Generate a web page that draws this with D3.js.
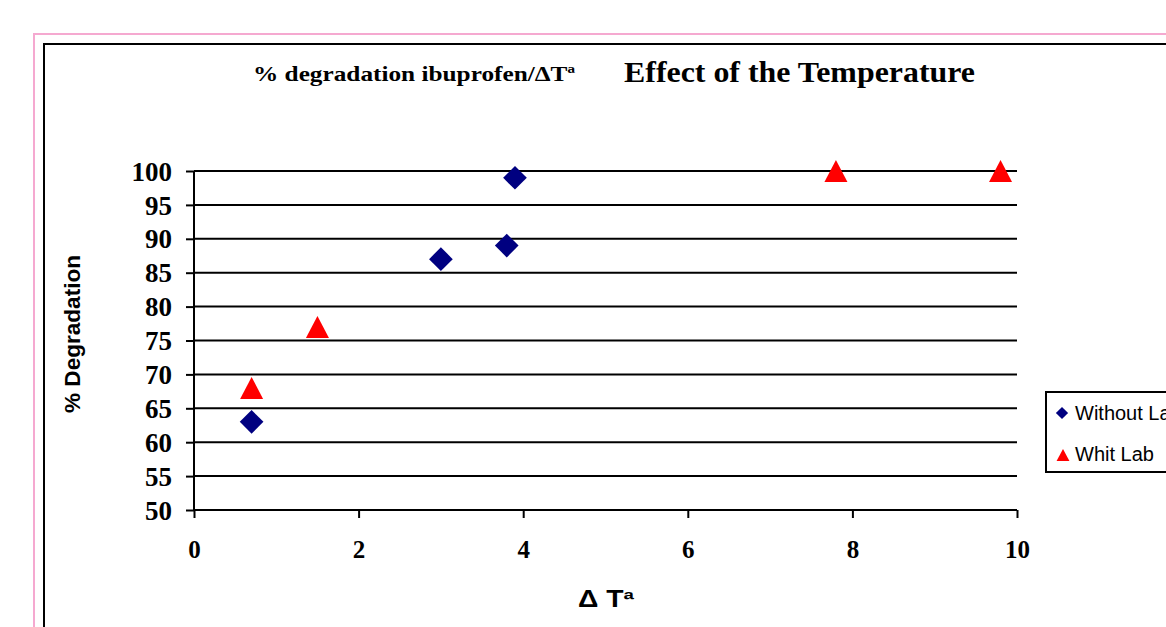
<html>
<script src="https://d3js.org/d3.v7.min.js"></script>
<style>
  body { margin: 0; background: #fff; }
  svg text { fill: #000; }
</style>
<body>
<svg id="chart" width="1166" height="627"></svg>
<script>
// series values
const withoutLabX = [0.7, 3.0, 3.8, 3.9];
const withoutLabY = [63, 87, 89, 99];
const withLabX = [0.7, 1.5, 7.8, 9.8];
const withLabY = [68, 77, 100, 100];
const seriesNames = ["Without Lab", "Whit Lab"];
const yTicks = [50, 55, 60, 65, 70, 75, 80, 85, 90, 95, 100];
const xTicks = [0, 2, 4, 6, 8, 10];

const svg = d3.select("#chart");
const serif = "'Liberation Serif', 'Times New Roman', serif";
const sans = "'Liberation Sans', Arial, sans-serif";

// excel-like markers: diamond as rotated square, triangle centred on its box
const excelDiamond = {
  draw(ctx, size) {
    const r = Math.sqrt(size) / 2;
    ctx.moveTo(0, -r); ctx.lineTo(r, 0); ctx.lineTo(0, r); ctx.lineTo(-r, 0); ctx.closePath();
  }
};
const excelTriangle = {
  draw(ctx, size) {
    const h = Math.sqrt(size) / 2;
    ctx.moveTo(0, -h); ctx.lineTo(h * 1.05, h); ctx.lineTo(-h * 1.05, h); ctx.closePath();
  }
};

// outer frames (cut off on right/bottom like the screenshot)
svg.append("rect").attr("x", 34).attr("y", 34).attr("width", 1200).attr("height", 700)
  .attr("fill", "none").attr("stroke", "#f5a9d0").attr("stroke-width", 2);
svg.append("rect").attr("x", 44).attr("y", 44).attr("width", 1200).attr("height", 700)
  .attr("fill", "none").attr("stroke", "#000").attr("stroke-width", 2);

const x = d3.scaleLinear().domain([0, 10]).range([194, 1017]);
const y = d3.scaleLinear().domain([50, 100]).range([510, 171]);

// gridlines
svg.append("g").selectAll("line").data(yTicks.slice(1)).join("line")
  .attr("x1", 194).attr("x2", 1017)
  .attr("y1", d => y(d)).attr("y2", d => y(d))
  .attr("stroke", "#000").attr("stroke-width", 2);

// y axis
const yAxis = svg.append("g").attr("transform", "translate(194,0)")
  .call(d3.axisLeft(y).tickValues(yTicks).tickSize(8).tickPadding(14));
yAxis.selectAll("path, line").attr("stroke", "#000").attr("stroke-width", 2);
yAxis.select(".domain").attr("d", `M0,${y(50)}V${y(100)}`);
yAxis.selectAll("text").attr("font-family", serif).attr("font-weight", "bold")
  .attr("font-size", 27).attr("fill", "#000").attr("dy", "0.34em");

// x axis
const xAxis = svg.append("g").attr("transform", "translate(0,510)")
  .call(d3.axisBottom(x).tickValues(xTicks).tickSize(8).tickPadding(22));
xAxis.selectAll("path, line").attr("stroke", "#000").attr("stroke-width", 2);
xAxis.select(".domain").attr("d", `M${x(0)},0H${x(10)}`);
xAxis.selectAll("text").attr("font-family", serif).attr("font-weight", "bold")
  .attr("font-size", 25).attr("fill", "#000");

// points
svg.append("g").selectAll("path").data(withoutLabX.map((v, i) => [v, withoutLabY[i]])).join("path")
  .attr("d", d3.symbol().type(excelDiamond).size(560))
  .attr("transform", d => `translate(${x(d[0])},${y(d[1])})`)
  .attr("fill", "#000080");

svg.append("g").selectAll("path").data(withLabX.map((v, i) => [v, withLabY[i]])).join("path")
  .attr("d", d3.symbol().type(excelTriangle).size(480))
  .attr("transform", d => `translate(${x(d[0])},${y(d[1])})`)
  .attr("fill", "#ff0000");

// titles
svg.append("text").attr("x", 253).attr("y", 81)
  .attr("font-family", serif).attr("font-weight", "bold").attr("font-size", 21)
  .attr("textLength", 322).attr("lengthAdjust", "spacingAndGlyphs")
  .text("% degradation ibuprofen/ΔTª");
svg.append("text").attr("x", 624).attr("y", 82)
  .attr("font-family", serif).attr("font-weight", "bold").attr("font-size", 30)
  .attr("textLength", 351).attr("lengthAdjust", "spacingAndGlyphs")
  .text("Effect of the Temperature");

// axis labels
svg.append("text").attr("transform", "translate(80,413) rotate(-90)")
  .attr("font-family", sans).attr("font-weight", "bold").attr("font-size", 22)
  .attr("textLength", 158).attr("lengthAdjust", "spacingAndGlyphs")
  .text("% Degradation");
svg.append("text").attr("x", 578).attr("y", 607)
  .attr("font-family", sans).attr("font-weight", "bold").attr("font-size", 23)
  .attr("textLength", 56).attr("lengthAdjust", "spacingAndGlyphs")
  .text("Δ Tª");

// legend
const lg = svg.append("g");
lg.append("rect").attr("x", 1046).attr("y", 392).attr("width", 200).attr("height", 80)
  .attr("fill", "#fff").attr("stroke", "#000").attr("stroke-width", 2);
lg.append("path").attr("d", d3.symbol().type(excelDiamond).size(150))
  .attr("transform", "translate(1062,413)").attr("fill", "#000080");
lg.append("path").attr("d", d3.symbol().type(excelTriangle).size(150))
  .attr("transform", "translate(1063,455)").attr("fill", "#ff0000");
lg.selectAll("text").data(seriesNames).join("text")
  .attr("x", 1075).attr("y", (d, i) => 420 + i * 41)
  .attr("font-family", sans).attr("font-size", 20)
  .text(d => d);
</script>
</body>
</html>
